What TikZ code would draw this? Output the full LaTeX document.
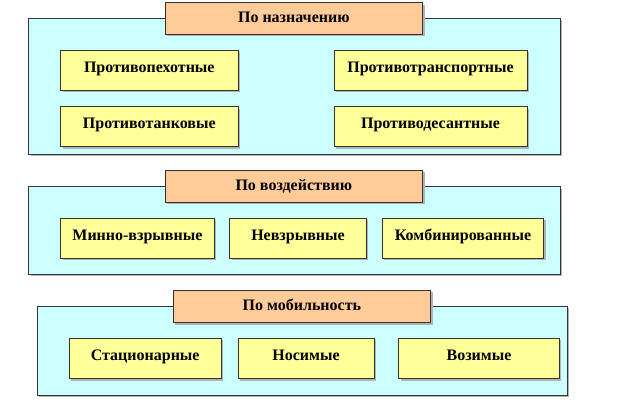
\documentclass[tikz,border=0pt]{standalone}
\usepackage{fontspec}
\setmainfont{Liberation Serif}[BoldFont={Liberation Serif Bold}]
\usetikzlibrary{shadows}
\definecolor{pcyan}{HTML}{CCFFFF}
\definecolor{ptitle}{HTML}{FFCC99}
\definecolor{pyellow}{HTML}{FFFF99}
\definecolor{pline}{HTML}{333333}
\tikzset{
  shad/.style={drop shadow={shadow xshift=2pt, shadow yshift=-2pt, fill=black!30, opacity=1}},
  panel/.style={draw=pline, line width=0.6pt, fill=pcyan, shad, inner sep=0pt},
  titlebox/.style={draw=pline, line width=0.8pt, fill=ptitle, shad, inner sep=0pt, text height=11pt, text depth=3pt, font=\fontsize{16}{18}\selectfont\bfseries},
  itembox/.style={draw=pline, line width=0.8pt, fill=pyellow, shad, inner sep=0pt, minimum height=40pt, text height=11pt, text depth=7pt, font=\fontsize{16}{18}\selectfont\bfseries},
}
\begin{document}
\begin{tikzpicture}[x=1pt,y=-1pt]
\useasboundingbox (0,0) rectangle (640,403);
% panel 1
\node[panel, minimum width=531.3pt, minimum height=136pt] (p1) at (294.3,86) {};
\node[titlebox, minimum width=257.6pt, minimum height=31.6pt] (t1) at (293.8,18.5) {По назначению};
\node[itembox, minimum width=177.3pt] (a1) at (149.3,70.5) {Противопехотные};
\node[itembox, minimum width=177.3pt] (a2) at (149.3,126.7) {Противотанковые};
\node[itembox, minimum width=193pt] (a3) at (430.5,70.5) {Противотранспортные};
\node[itembox, minimum width=193pt] (a4) at (430.5,126.7) {Противодесантные};
% panel 2
\node[panel, minimum width=531.3pt, minimum height=87.6pt] (p2) at (294.3,230.5) {};
\node[titlebox, minimum width=257.6pt, minimum height=32.3pt] (t2) at (293.8,186.2) {По воздействию};
\node[itembox, minimum width=153.3pt] (b1) at (137.4,238.3) {Минно-взрывные};
\node[itembox, minimum width=136.7pt] (b2) at (298,238.3) {Невзрывные};
\node[itembox, minimum width=161.2pt] (b3) at (463,238.3) {Комбинированные};
% panel 3
\node[panel, minimum width=530.5pt, minimum height=89pt] (p3) at (302.2,350.5) {};
\node[titlebox, minimum width=257.8pt, minimum height=32.7pt] (t3) at (301.9,306.4) {По мобильность};
\node[itembox, minimum width=152.5pt, minimum height=40.4pt] (c1) at (145.2,358.5) {Стационарные};
\node[itembox, minimum width=136pt, minimum height=40.4pt] (c2) at (306,358.5) {Носимые};
\node[itembox, minimum width=160.4pt, minimum height=40.4pt] (c3) at (479,358.5) {Возимые};
\end{tikzpicture}
\end{document}
